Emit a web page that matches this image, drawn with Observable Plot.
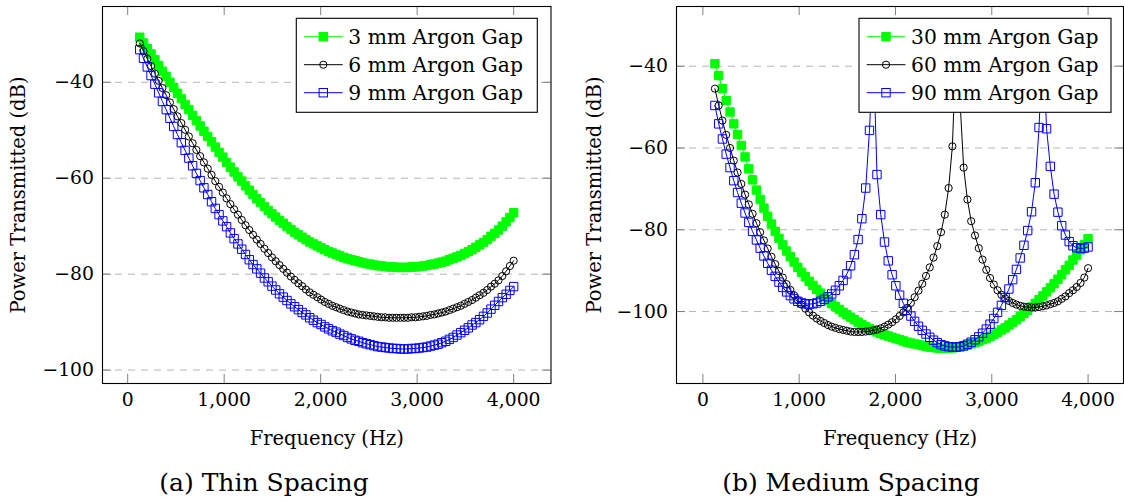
<!DOCTYPE html>
<html>
<head>
<meta charset="utf-8">
<script src="https://cdn.jsdelivr.net/npm/d3@7"></script>
<script src="https://cdn.jsdelivr.net/npm/@observablehq/plot@0.6"></script>
<style>
  body { margin: 0; background: #fff; }
  #wrap { position: relative; width: 1124px; height: 502px; overflow: hidden; background: #fff;
          font-family: "DejaVu Serif", "Liberation Serif", "Times New Roman", Times, serif; }
  #wrap svg, #wrap svg text { font-family: "DejaVu Serif", "Liberation Serif", "Times New Roman", Times, serif !important; }
</style>
</head>
<body>
<div id="wrap"></div>
<script>
// ---------- data ----------
const freq = [
  125,164,203,242,282,321,360,399,438,477,
  516,556,595,634,673,712,751,790,830,869,
  908,947,986,1025,1064,1103,1143,1182,1221,1260,
  1299,1338,1377,1417,1456,1495,1534,1573,1612,1651,
  1691,1730,1769,1808,1847,1886,1925,1965,2004,2043,
  2082,2121,2160,2199,2239,2278,2317,2356,2395,2434,
  2473,2512,2552,2591,2630,2669,2708,2747,2786,2826,
  2865,2904,2943,2982,3021,3060,3100,3139,3178,3217,
  3256,3295,3334,3373,3413,3452,3491,3530,3569,3608,
  3647,3687,3726,3765,3804,3843,3882,3922,3961,4000
];

// (a) Thin spacing
const thin3mm = [
  -30.6,-31.8,-33.0,-34.1,-35.3,-36.5,-37.7,-38.8,-40.0,-41.1,
  -42.3,-43.4,-44.6,-45.7,-46.9,-48.0,-49.1,-50.2,-51.3,-52.4,
  -53.5,-54.6,-55.6,-56.7,-57.7,-58.7,-59.7,-60.6,-61.6,-62.5,
  -63.4,-64.3,-65.1,-65.9,-66.7,-67.4,-68.1,-68.8,-69.4,-70.1,
  -70.7,-71.3,-71.8,-72.3,-72.8,-73.3,-73.7,-74.1,-74.5,-74.9,
  -75.3,-75.6,-75.9,-76.2,-76.5,-76.8,-77.0,-77.2,-77.4,-77.6,
  -77.8,-77.9,-78.1,-78.2,-78.3,-78.4,-78.5,-78.5,-78.6,-78.6,
  -78.6,-78.6,-78.5,-78.5,-78.4,-78.3,-78.2,-78.0,-77.9,-77.7,
  -77.5,-77.3,-77.0,-76.7,-76.4,-76.1,-75.7,-75.3,-74.9,-74.4,
  -73.9,-73.4,-72.8,-72.1,-71.5,-70.8,-70.0,-69.1,-68.2,-67.2
];
const thin6mm = [
  -31.9,-33.5,-35.1,-36.6,-38.2,-39.7,-41.2,-42.7,-44.2,-45.6,
  -47.1,-48.5,-49.9,-51.3,-52.7,-54.1,-55.4,-56.7,-58.0,-59.3,
  -60.6,-61.8,-63.0,-64.2,-65.4,-66.5,-67.6,-68.7,-69.8,-70.8,
  -71.8,-72.8,-73.7,-74.7,-75.6,-76.5,-77.3,-78.1,-78.9,-79.7,
  -80.5,-81.2,-81.9,-82.5,-83.2,-83.8,-84.3,-84.8,-85.3,-85.8,
  -86.2,-86.6,-86.9,-87.2,-87.5,-87.8,-88.0,-88.2,-88.4,-88.5,
  -88.6,-88.7,-88.8,-88.9,-89.0,-89.0,-89.1,-89.1,-89.1,-89.1,
  -89.1,-89.1,-89.0,-89.0,-88.9,-88.8,-88.7,-88.5,-88.4,-88.2,
  -88.0,-87.8,-87.5,-87.2,-86.9,-86.6,-86.2,-85.8,-85.4,-84.9,
  -84.4,-83.9,-83.3,-82.6,-82.0,-81.3,-80.4,-79.4,-78.3,-77.2
];
const thin9mm = [
  -33.2,-35.0,-36.8,-38.6,-40.4,-42.2,-44.0,-45.7,-47.5,-49.2,
  -50.9,-52.6,-54.2,-55.8,-57.4,-59.0,-60.5,-62.0,-63.4,-64.9,
  -66.3,-67.6,-68.9,-70.1,-71.4,-72.6,-73.7,-74.8,-75.9,-77.0,
  -78.0,-78.9,-79.8,-80.8,-81.6,-82.5,-83.3,-84.1,-84.8,-85.5,
  -86.2,-86.8,-87.4,-88.0,-88.5,-89.1,-89.6,-90.1,-90.5,-91.0,
  -91.4,-91.8,-92.1,-92.5,-92.8,-93.2,-93.5,-93.8,-94.0,-94.3,
  -94.5,-94.7,-94.9,-95.1,-95.2,-95.3,-95.4,-95.5,-95.5,-95.6,
  -95.6,-95.6,-95.5,-95.5,-95.4,-95.3,-95.2,-95.0,-94.8,-94.6,
  -94.3,-94.0,-93.6,-93.2,-92.7,-92.2,-91.7,-91.2,-90.6,-90.1,
  -89.5,-88.8,-88.1,-87.3,-86.5,-85.7,-84.9,-84.2,-83.4,-82.6
];

// (b) Medium spacing
const med30mm = [
  -39.4,-42.3,-45.5,-48.4,-51.2,-54.1,-56.7,-59.4,-62.2,-65.1,
  -67.8,-70.3,-72.6,-74.7,-76.7,-78.6,-80.4,-82.1,-83.7,-85.2,
  -86.6,-87.9,-89.2,-90.4,-91.5,-92.6,-93.6,-94.6,-95.5,-96.4,
  -97.3,-98.1,-98.8,-99.5,-100.2,-100.8,-101.4,-102.0,-102.6,-103.2,
  -103.7,-104.2,-104.6,-105.0,-105.4,-105.7,-106.0,-106.3,-106.6,-106.9,
  -107.2,-107.5,-107.7,-107.9,-108.1,-108.3,-108.5,-108.7,-108.8,-108.9,
  -109.0,-109.0,-108.9,-108.9,-108.7,-108.6,-108.4,-108.2,-107.9,-107.6,
  -107.3,-106.9,-106.5,-106.1,-105.6,-105.1,-104.5,-104.0,-103.3,-102.7,
  -102.0,-101.3,-100.5,-99.7,-98.9,-98.0,-97.1,-96.2,-95.2,-94.2,
  -93.2,-92.1,-91.0,-89.8,-88.7,-87.4,-86.2,-84.9,-83.6,-82.2
];
const med60mm = [
  -45.5,-49.6,-53.3,-56.8,-60.0,-63.1,-66.0,-68.8,-71.4,-73.8,
  -76.1,-78.4,-80.6,-82.6,-84.6,-86.6,-88.4,-90.1,-91.7,-93.3,
  -94.7,-96.0,-97.2,-98.3,-99.3,-100.2,-101.0,-101.7,-102.3,-102.8,
  -103.3,-103.7,-104.0,-104.3,-104.5,-104.7,-104.9,-105.0,-105.0,-105.0,
  -104.9,-104.8,-104.6,-104.4,-104.1,-103.7,-103.2,-102.6,-101.9,-101.1,
  -100.2,-99.1,-97.9,-96.5,-94.9,-93.2,-91.3,-89.2,-86.8,-84.0,
  -80.6,-76.3,-69.8,-59.6,-35.0,-48.0,-64.8,-72.6,-77.9,-81.4,
  -84.5,-87.3,-89.8,-91.8,-93.4,-94.8,-95.9,-96.8,-97.4,-97.9,
  -98.3,-98.6,-98.8,-98.9,-99.0,-99.0,-98.9,-98.7,-98.5,-98.2,
  -97.9,-97.5,-96.9,-96.3,-95.5,-94.8,-94.0,-93.0,-91.7,-89.4
];
const med90mm = [
  -49.6,-54.1,-57.8,-61.5,-64.8,-68.0,-70.9,-73.5,-75.9,-78.2,
  -80.4,-82.5,-84.5,-86.4,-88.2,-89.9,-91.4,-92.8,-94.1,-95.2,
  -96.1,-96.9,-97.5,-97.9,-98.1,-98.2,-98.1,-97.9,-97.5,-97.0,
  -96.4,-95.7,-94.8,-93.7,-92.4,-90.8,-88.8,-86.1,-82.4,-77.3,
  -69.8,-55.7,-35.0,-66.5,-76.3,-83.0,-87.6,-91.0,-93.7,-96.0,
  -98.0,-99.7,-101.1,-102.4,-103.6,-104.6,-105.5,-106.3,-107.0,-107.6,
  -108.1,-108.4,-108.6,-108.7,-108.7,-108.6,-108.4,-108.0,-107.5,-106.9,
  -106.2,-105.3,-104.3,-103.1,-101.7,-100.2,-98.5,-96.6,-94.5,-92.2,
  -89.7,-86.9,-83.8,-80.2,-75.6,-68.5,-55.0,-33.0,-55.3,-64.5,
  -71.3,-75.7,-79.0,-81.3,-82.9,-83.9,-84.4,-84.6,-84.5,-84.2
];

const thinLabels = ["3 mm Argon Gap", "6 mm Argon Gap", "9 mm Argon Gap"];
const medLabels = ["30 mm Argon Gap", "60 mm Argon Gap", "90 mm Argon Gap"];
const xTicks = [0, 1000, 2000, 3000, 4000];
const yTicks = [-100, -80, -60, -40];
const xLabel = "Frequency (Hz)";
const yLabel = "Power Transmitted (dB)";
const captions = ["(a) Thin Spacing", "(b) Medium Spacing"];

// ---------- styles ----------
const FONT = '"DejaVu Serif", "Liberation Serif", "Times New Roman", Times, serif';
const FS = 19.5;       // axis titles
const TICK_FS = 18.8;  // tick labels
const LEG_FS = 20.3;   // legend entries
const CAP_FS = 25;     // sub-captions
const seriesStyle = [
  {color: "#00ff00", symbol: "square", filled: true},
  {color: "#000000", symbol: "circle", filled: false},
  {color: "#0000ff", symbol: "square", filled: false}
];
const SQ = 8.4;        // square side (px)
const CR = 3.6;        // circle radius (px)
const LW = 1;

const wrap = document.getElementById("wrap");

function panel(o) {
  const W = o.width - o.mL - o.mR;
  const H = o.height - o.mT - o.mB;
  const tickStyle = {stroke: "#808080", strokeWidth: 1};
  const marks = [
    Plot.gridY(yTicks, {stroke: "#b5b5b5", strokeOpacity: 1, strokeWidth: 1, strokeDasharray: "7,6"}),
    Plot.tickX(xTicks, {x: d => d, ...tickStyle, insetTop: H - 9}),
    Plot.tickX(xTicks, {x: d => d, ...tickStyle, insetBottom: H - 9}),
    Plot.tickY(yTicks, {y: d => d, ...tickStyle, insetRight: W - 9}),
    Plot.tickY(yTicks, {y: d => d, ...tickStyle, insetLeft: W - 9})
  ];
  o.values.forEach((vals, s) => {
    const st = seriesStyle[s];
    const data = freq.map((f, i) => ({f, v: vals[i]}));
    marks.push(Plot.line(data, {x: "f", y: "v", stroke: st.color, strokeWidth: LW, clip: true}));
    marks.push(Plot.dot(data, {
      x: "f", y: "v", symbol: st.symbol,
      r: st.symbol === "square" ? SQ / Math.sqrt(Math.PI) : CR,
      fill: st.filled ? st.color : "none",
      stroke: st.color, strokeWidth: LW, clip: true
    }));
  });
  marks.push(
    Plot.axisX(xTicks, {tickSize: 0, tickPadding: 8.7, tickFormat: d3.format(","), label: null, fontSize: TICK_FS}),
    Plot.axisY(yTicks, {tickSize: 0, tickPadding: 8.5, label: null, fontSize: TICK_FS}),
    Plot.frame({stroke: "#000", strokeWidth: 1.1}),
    Plot.text([xLabel], {text: d => d, frameAnchor: "bottom", textAnchor: "middle", lineAnchor: "middle", dy: 55, fontSize: FS}),
    Plot.text([yLabel], {text: d => d, frameAnchor: "left", rotate: -90, textAnchor: "middle", lineAnchor: "middle", dx: o.yLabelDx, fontSize: FS})
  );
  const svg = Plot.plot({
    width: o.width, height: o.height,
    marginLeft: o.mL, marginRight: o.mR, marginTop: o.mT, marginBottom: o.mB,
    x: {domain: o.xDomain},
    y: {domain: o.yDomain},
    style: {fontFamily: FONT, fontSize: FS + "px", background: "transparent", overflow: "visible"},
    marks
  });
  svg.setAttribute("font-family", FONT);
  svg.style.left = o.left + "px";
  svg.style.position = "absolute";
  svg.style.top = "0px";
  wrap.appendChild(svg);
}

panel({
  values: [thin3mm, thin6mm, thin9mm],
  left: 0, width: 562, height: 450,
  mL: 102, mR: 11.5, mT: 6, mB: 67,
  xDomain: [-261, 4387], yDomain: [-102.8, -24.2],
  yLabelDx: -83.8
});
panel({
  values: [med30mm, med60mm, med90mm],
  left: 562, width: 562, height: 450,
  mL: 114, mR: 1, mT: 6, mB: 67,
  xDomain: [-274, 4368], yDomain: [-117.6, -25.4],
  yLabelDx: -82
});

// ---------- overlay: legends + captions ----------
const ov = d3.create("svg")
  .attr("width", 1124).attr("height", 502)
  .attr("font-family", FONT)
  .style("position", "absolute").style("left", "0px").style("top", "0px");

function legend(labels, bx, by, bw, bh) {
  const g = ov.append("g").attr("transform", `translate(${bx},${by})`);
  g.append("rect").attr("x", 0).attr("y", 0).attr("width", bw).attr("height", bh)
    .attr("fill", "#fff").attr("stroke", "#000").attr("stroke-width", 1.1);
  labels.forEach((lab, s) => {
    const st = seriesStyle[s];
    const cy = 18.4 + 28 * s;
    g.append("line").attr("x1", 7.7).attr("x2", 46.4).attr("y1", cy).attr("y2", cy)
      .attr("stroke", st.color).attr("stroke-width", LW);
    if (st.symbol === "square") {
      g.append("rect").attr("x", 27 - SQ / 2).attr("y", cy - SQ / 2).attr("width", SQ).attr("height", SQ)
        .attr("fill", st.filled ? st.color : "none").attr("stroke", st.color).attr("stroke-width", LW);
    } else {
      g.append("circle").attr("cx", 27).attr("cy", cy).attr("r", CR)
        .attr("fill", "none").attr("stroke", st.color).attr("stroke-width", LW);
    }
    g.append("text").attr("x", 52).attr("y", cy + 7.3).attr("font-size", LEG_FS).attr("fill", "#000").text(lab);
  });
}
legend(thinLabels, 296.3, 18.3, 241, 94);
legend(medLabels, 859, 18.3, 252, 94);

ov.append("text").attr("x", 264).attr("y", 491).attr("text-anchor", "middle")
  .attr("font-size", CAP_FS).attr("fill", "#000").text(captions[0]);
ov.append("text").attr("x", 851).attr("y", 491).attr("text-anchor", "middle")
  .attr("font-size", CAP_FS).attr("fill", "#000").text(captions[1]);

wrap.appendChild(ov.node());
</script>
</body>
</html>
